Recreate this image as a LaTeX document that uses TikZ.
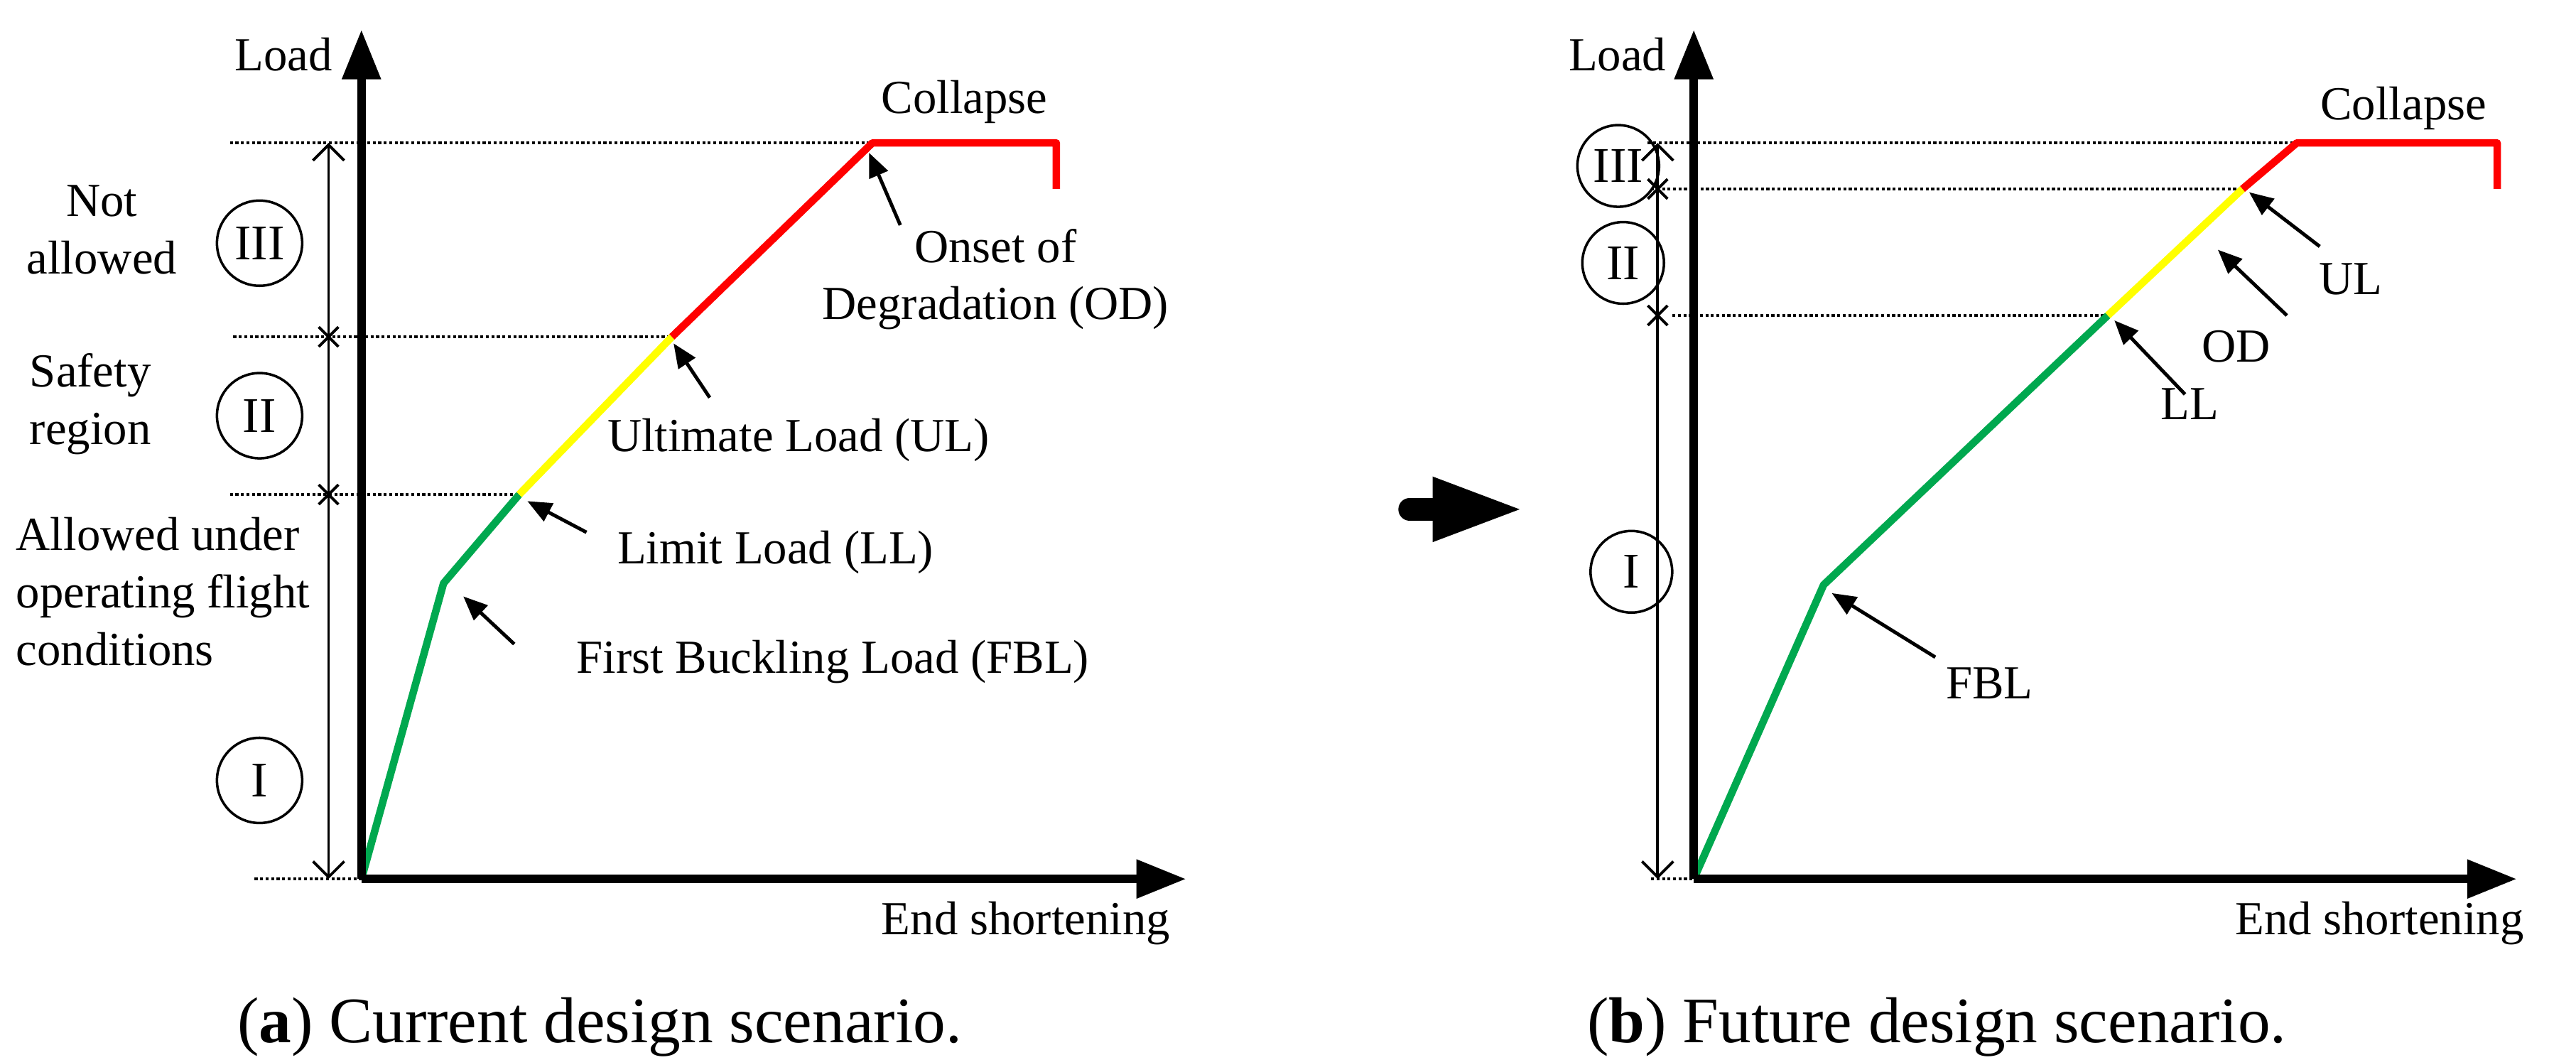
\documentclass[tikz,border=0pt]{standalone}
\usepackage{fontspec}
\setmainfont{Liberation Serif}
\usetikzlibrary{arrows.meta}
\definecolor{curvegreen}{HTML}{00A84F}
\definecolor{curveyellow}{HTML}{FFFF00}
\definecolor{curvered}{HTML}{FF0000}

\begin{document}
\begin{tikzpicture}[
            x=0.023125cm, y=-0.023125cm,
            lbl/.style={font=\fontsize{19}{23}\selectfont, inner sep=1pt},
            capt/.style={font=\fontsize{26}{29}\selectfont},
            region/.style={draw, circle, line width=1pt, minimum size=1.2cm, inner sep=0pt, font=\fontsize{20}{22}\selectfont},
            axis/.style={line width=3.5pt, -{Triangle[length=0.7cm, width=0.52cm]}},
            guide/.style={densely dotted, line width=1.2pt},
            dim/.style={line width=1.1pt, {Straight Barb[length=0.22cm]}-{Straight Barb[length=0.22cm]}},
            pointer/.style={line width=1.4pt, -{Triangle[length=0.34cm, width=0.28cm]}},
            seg/.style={line width=3pt, line join=round}
        ]
            \useasboundingbox (0,0) rectangle (1568,645);

            % (a) current design scenario
            \coordinate (oa) at (220,535);
            \coordinate (fbla) at (270,355);
            \coordinate (lla) at (316,301);
            \coordinate (ula) at (409,205);
            \coordinate (oda) at (531,87);
            \coordinate (cola) at (643,87);
            \draw[guide] (140,87) -- (oda);
            \draw[guide] (142,205) -- (ula);
            \draw[guide] (140,301) -- (lla);
            \draw[guide] (155,535) -- (oa);
            \draw[seg, curvegreen] (oa) -- (fbla) -- (lla);
            \draw[seg, curveyellow] (lla) -- (ula);
            \draw[seg, curvered] (ula) -- (oda) -- (cola) -- ++(0,28);
            \draw[axis] (oa) -- (220,18);
            \draw[axis] (oa) -- (722,535);
            \draw[dim] (200,87) -- (200,535);
            \foreach \yy in {205,301} {
                \draw[line width=1.1pt] (194,\yy-6) -- (206,\yy+6) (194,\yy+6) -- (206,\yy-6);
            }
            \node[lbl, anchor=east] (loada) at (204,33) {Load};
            \node[lbl, anchor=east] (enda) at (714,562) {End shortening};
            \node[lbl] (colla) at (587,62) {Collapse};
            \node[region] (r3a) at (158,148) {III};
            \node[region] (r2a) at (158,253) {II};
            \node[region] (r1a) at (158,475) {I};
            \node[lbl, align=center] (nota) at (62,140) {Not\\allowed};
            \node[lbl, align=left] (safa) at (55,246) {Safety\\region};
            \node[lbl, align=left, anchor=west] (alla) at (8,360) {Allowed under\\operating flight\\conditions};
            \node[lbl, align=center] (odla) at (606,170) {Onset of\\Degradation (OD)};
            \node[lbl] (ulla) at (486,268) {Ultimate Load (UL)};
            \node[lbl] (llla) at (472,336) {Limit Load (LL)};
            \node[lbl] (fblla) at (507,403) {First Buckling Load (FBL)};
            \draw[pointer] (548,137) coordinate (p1) -- ([shift={(-2,6)}]oda);
            \draw[pointer] (432,242) coordinate (p2) -- ([shift={(1,4)}]ula);
            \draw[pointer] (357,324) coordinate (p3) -- ([shift={(5,4)}]lla);
            \draw[pointer] (313,392) coordinate (p4) -- ([shift={(12,8)}]fbla);
            \node[capt] (capa) at (365,625) {(\textbf{a}) Current design scenario.};

            % transition arrow
            \coordinate (tra) at (858,310);
            \draw[line width=9pt, line cap=round] (tra) -- (878,310);
            \fill (872,290) -- (925,310) -- (872,330) -- cycle;

            % (b) future design scenario
            \coordinate (ob) at (1031,535);
            \coordinate (fblb) at (1110,356);
            \coordinate (llb) at (1283,192);
            \coordinate (ulb) at (1365,115);
            \coordinate (odb) at (1398,87);
            \coordinate (colb) at (1520,87);
            \draw[guide] (1003,87) -- (odb);
            \draw[guide] (1005,115) -- (ulb);
            \draw[guide] (1018,192) -- (llb);
            \draw[guide] (1005,535) -- (ob);
            \draw[seg, curvegreen] (ob) -- (fblb) -- (llb);
            \draw[seg, curveyellow] (llb) -- (ulb);
            \draw[seg, curvered] (ulb) -- (odb) -- (colb) -- ++(0,28);
            \draw[axis] (ob) -- (1031,18);
            \draw[axis] (ob) -- (1532,535);
            \draw[dim] (1009,87) -- (1009,535);
            \foreach \yy in {115,192} {
                \draw[line width=1.1pt] (1003,\yy-6) -- (1015,\yy+6) (1003,\yy+6) -- (1015,\yy-6);
            }
            \node[lbl, anchor=east] (loadb) at (1016,33) {Load};
            \node[lbl, anchor=east] (endb) at (1538,562) {End shortening};
            \node[lbl] (collb) at (1463,66) {Collapse};
            \node[region, minimum size=1.15cm] (r3b) at (985,101) {III};
            \node[region, minimum size=1.15cm] (r2b) at (988,160) {II};
            \node[region, minimum size=1.15cm] (r1b) at (993,348) {I};
            \node[lbl] (ullb) at (1431,170) {UL};
            \node[lbl] (odlb) at (1361,211) {OD};
            \node[lbl] (lllb) at (1333,246) {LL};
            \node[lbl] (fbllb) at (1211,416) {FBL};
            \draw[pointer] (1412,150) coordinate (q1) -- ([shift={(4,2)}]ulb);
            \draw[pointer] (1392,192) coordinate (q2) -- (1350,152);
            \draw[pointer] (1330,240) coordinate (q3) -- ([shift={(4,3)}]llb);
            \draw[pointer] (1178,400) coordinate (q4) -- ([shift={(5,5)}]fblb);
            \node[capt] (capb) at (1179,625) {(\textbf{b}) Future design scenario.};
        \end{tikzpicture}
\end{document}
